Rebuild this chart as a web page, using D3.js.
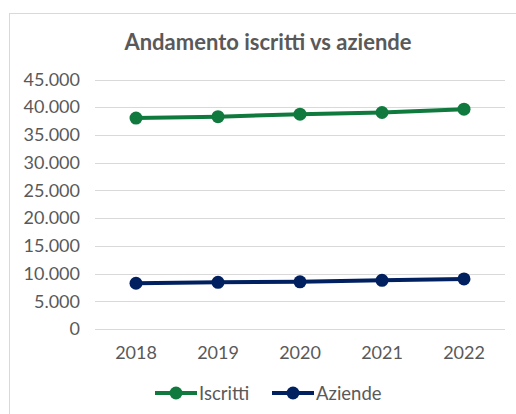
<!DOCTYPE html>
<html>
<head>
<meta charset="utf-8">
<script src="https://cdn.jsdelivr.net/npm/d3@7"></script>
<style>
  body { margin: 0; background: #fff; }
  text { font-family: Lato, "Open Sans", sans-serif; }
</style>
</head>
<body>
<div id="chart"></div>
<script>
// data
var years = ["2018", "2019", "2020", "2021", "2022"];
var iscritti = [38050, 38300, 38750, 39050, 39650];
var aziende = [8250, 8420, 8500, 8780, 9030];
var yTicks = [0, 5000, 10000, 15000, 20000, 25000, 30000, 35000, 40000, 45000];

var W = 516, H = 414;
var svg = d3.select("#chart").append("svg")
        .attr("width", W)
        .attr("height", H);

// chart area border (runs off the right and bottom edge)
svg.append("rect")
        .attr("x", 9.5).attr("y", 13.5)
        .attr("width", 520).attr("height", 420)
        .attr("fill", "#fff")
        .attr("stroke", "#d9d9d9");

svg.append("text")
        .attr("x", 268).attr("y", 50)
        .attr("text-anchor", "middle")
        .style("font-size", "22px")
        .style("font-weight", "bold")
        .style("fill", "#595959")
        .text("Andamento iscritti vs aziende");

var x = d3.scaleBand().domain(years).range([95, 505]);
var y = d3.scaleLinear().domain([0, 45000]).range([329, 79.5]);
var fmt = function(v) { return d3.format(",")(v).replace(/,/g, "."); };

// gridlines
svg.append("g").selectAll("line")
        .data(yTicks)
        .enter().append("line")
        .attr("x1", 95).attr("x2", 505)
        .attr("y1", d => Math.round(y(d)) + 0.5)
        .attr("y2", d => Math.round(y(d)) + 0.5)
        .attr("stroke", "#d9d9d9")
        .attr("stroke-width", 1);

// y axis labels
var yAxis = svg.append("g")
        .attr("transform", "translate(80,0)")
        .call(d3.axisLeft(y).tickValues(yTicks).tickFormat(fmt).tickSize(0).tickPadding(0));
yAxis.select(".domain").remove();
yAxis.selectAll("text")
        .style("font-family", "Lato, sans-serif")
        .style("font-size", "18px")
        .style("fill", "#595959");

// x axis labels
var xAxis = svg.append("g")
        .attr("transform", "translate(0,346)")
        .call(d3.axisBottom(x).tickSize(0).tickPadding(0));
xAxis.select(".domain").remove();
xAxis.selectAll("text")
        .style("font-family", "Lato, sans-serif")
        .style("font-size", "18px")
        .style("fill", "#595959");

var series = [
    {name: "Iscritti", values: iscritti, color: "#107a3e"},
    {name: "Aziende", values: aziende, color: "#002060"}
];

var line = d3.line()
        .x((d, i) => x(years[i]) + x.bandwidth() / 2)
        .y(d => y(d));

series.forEach(s => {
    svg.append("path")
            .datum(s.values)
            .attr("d", line)
            .attr("fill", "none")
            .attr("stroke", s.color)
            .attr("stroke-width", 4)
            .attr("stroke-linejoin", "round");
    svg.append("g").selectAll("circle")
            .data(s.values)
            .enter().append("circle")
            .attr("cx", (d, i) => x(years[i]) + x.bandwidth() / 2)
            .attr("cy", d => y(d))
            .attr("r", 6.5)
            .attr("fill", s.color);
});

// legend
var legendX = [155, 272];
var leg = svg.append("g").selectAll("g")
        .data(series)
        .enter().append("g")
        .attr("transform", (d, i) => "translate(" + legendX[i] + ",393)");
leg.append("line")
        .attr("x1", 0).attr("x2", 42)
        .attr("stroke", d => d.color)
        .attr("stroke-width", 4);
leg.append("circle")
        .attr("cx", 21).attr("r", 6.5)
        .attr("fill", d => d.color);
leg.append("text")
        .attr("x", 44).attr("y", 7)
        .style("font-size", "18.5px")
        .style("fill", "#595959")
        .text(d => d.name);
</script>
</body>
</html>
